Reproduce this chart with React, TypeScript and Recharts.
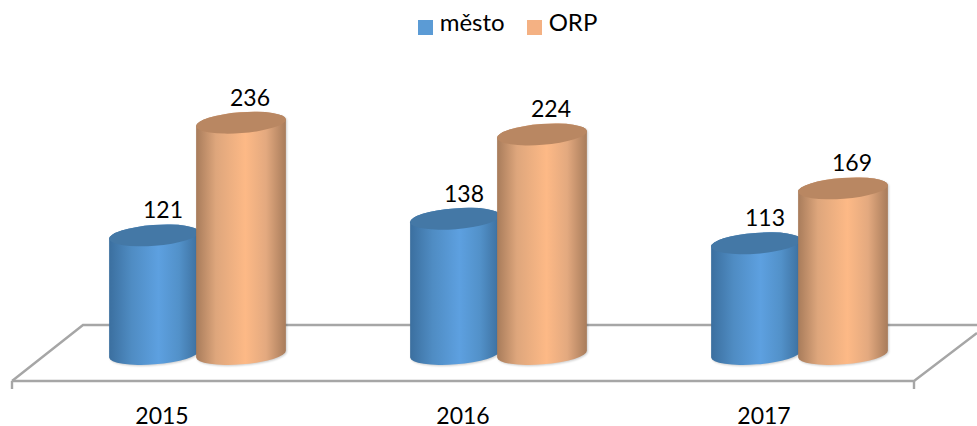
import React from "react";
import { BarChart, Bar, XAxis, YAxis, Legend, LabelList } from "recharts";

const years = ["2015", "2016", "2017"];
const mesto = [121, 138, 113];
const orp = [236, 224, 169];
const rows = years.map((year, i) => ({ year, mesto: mesto[i], orp: orp[i] }));

const FONT = "Lato, Carlito, sans-serif";
const TILT = -4.4;
const RY = 10.4;

function Cylinder(props: any) {
  const { x, y, width, height, grad, top } = props;
  const a = width / 2;
  const cx = x + a;
  const rad = (TILT * Math.PI) / 180;
  const dx = a * Math.cos(rad);
  const dy = a * Math.sin(rad);
  const base = y + height;
  const arc = `A${a} ${RY} ${TILT} 0 0`;
  const d = `M${cx - dx} ${y - dy} L${cx - dx} ${base - dy} ${arc} ${cx + dx} ${base + dy} L${cx + dx} ${y + dy} ${arc} ${cx - dx} ${y - dy} Z`;
  return (
    <g>
      <path d={d} fill="#000" opacity={0.2} filter="url(#soft)" transform="translate(1 1)" />
      <path d={d} fill={`url(#${grad})`} />
      <ellipse cx={cx} cy={y} rx={a} ry={RY} fill={top} transform={`rotate(${TILT} ${cx} ${y})`} />
    </g>
  );
}

function YearTick(props: any) {
  const { x, y, payload } = props;
  return (
    <text x={x - 35.5} y={y} textAnchor="middle" fontFamily={FONT} fontSize={23} fill="#000">
      {payload.value}
    </text>
  );
}

function ValueLabel(props: any) {
  const { x, y, width, value } = props;
  return (
    <text x={x + width / 2 + 9} y={y - 17} textAnchor="middle" fontFamily={FONT} fontSize={23} fill="#000">
      {value}
    </text>
  );
}

const legendText = (v: string) => (
  <span style={{ color: "#000", fontFamily: FONT, fontSize: 24, marginLeft: 3, marginRight: 12 }}>{v}</span>
);

export default function App() {
  return (
    <div style={{ position: "absolute", left: 0, top: 0, width: 977, height: 426, background: "#fff" }}>
      <BarChart
        width={977}
        height={426}
        data={rows}
        margin={{ top: 80, right: 27, bottom: 0, left: 47 }}
        barSize={90}
        barGap={-3}
        barCategoryGap={0}
      >
        <defs>
          <linearGradient id="blueG" x1="0" y1="0" x2="1" y2="0">
            <stop offset="0" stopColor="#3b6f9f" />
            <stop offset="0.25" stopColor="#4f8cc3" />
            <stop offset="0.55" stopColor="#5da0e0" />
            <stop offset="0.78" stopColor="#5291c9" />
            <stop offset="1" stopColor="#3c6f9e" />
          </linearGradient>
          <linearGradient id="orangeG" x1="0" y1="0" x2="1" y2="0">
            <stop offset="0" stopColor="#a87c5b" />
            <stop offset="0.22" stopColor="#dea67c" />
            <stop offset="0.55" stopColor="#fdb986" />
            <stop offset="0.78" stopColor="#e3a97f" />
            <stop offset="1" stopColor="#a87c5b" />
          </linearGradient>
          <filter id="soft" x="-10%" y="-10%" width="120%" height="120%">
            <feGaussianBlur stdDeviation="1.2" />
          </filter>
        </defs>
        <g stroke="#a6a6a6" strokeWidth={2.4} fill="none">
          <path d="M12 381 L83 325 L977 325" />
          <path d="M12 381 L914 381 L977 333" />
          <path d="M12 381 L12 389" />
          <path d="M914 381 L914 389" />
        </g>
        <XAxis
          dataKey="year"
          axisLine={false}
          tickLine={false}
          interval={0}
          tick={<YearTick />}
          tickMargin={0}
          height={72}
          tickSize={70}
        />
        <YAxis hide domain={[0, 250]} />
        <Legend
          verticalAlign="top"
          iconType="square"
          iconSize={15}
          formatter={legendText}
          itemSorter={null}
          wrapperStyle={{ top: 7, left: 30, width: 977 }}
        />
        <Bar dataKey="mesto" name="město" fill="#5b9bd5" isAnimationActive={false} shape={<Cylinder grad="blueG" top="#4478a6" />}>
          <LabelList dataKey="mesto" content={<ValueLabel />} />
        </Bar>
        <Bar dataKey="orp" name="ORP" fill="#f4b183" isAnimationActive={false} shape={<Cylinder grad="orangeG" top="#b98762" />}>
          <LabelList dataKey="orp" content={<ValueLabel />} />
        </Bar>
      </BarChart>
    </div>
  );
}
